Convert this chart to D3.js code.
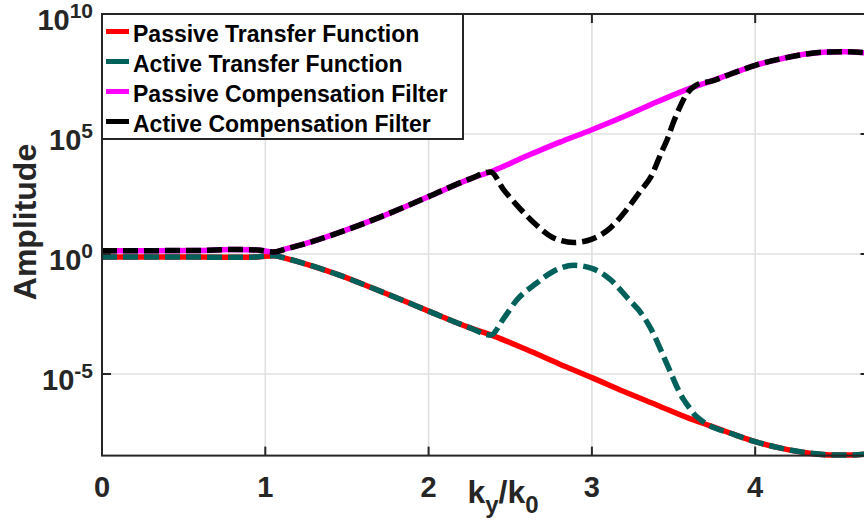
<!DOCTYPE html>
<html><head><meta charset="utf-8">
<script src="https://cdn.jsdelivr.net/npm/d3@7"></script>
<style>
html,body{margin:0;padding:0;background:#fff;}
svg{display:block;font-family:"Liberation Sans",Arial,Helvetica,sans-serif;font-weight:bold;}
</style></head>
<body><svg id="c" width="864" height="529"></svg>
<script>
// ---- data (x = ky/k0, value = log10 amplitude) ----
const xTicks = [0, 1, 2, 3, 4];
const yTickExps = [-5, 0, 5, 10];

const passiveTF_x = [0, 0.3, 0.6, 0.8, 0.95, 1.05, 1.12, 1.25, 1.45, 1.66, 1.87, 2.0, 2.25, 2.4, 2.6, 2.8, 3.0, 3.2, 3.4, 3.6, 3.72, 3.85, 4.0, 4.15, 4.3, 4.45, 4.55, 4.7];
const passiveTF_log = [-0.13, -0.13, -0.13, -0.14, -0.12, -0.07, -0.17, -0.42, -0.87, -1.43, -2.01, -2.38, -3.07, -3.42, -3.98, -4.58, -5.15, -5.74, -6.30, -6.86, -7.15, -7.47, -7.82, -8.08, -8.27, -8.37, -8.38, -8.32];

const activeTF_x = [0, 0.3, 0.6, 0.8, 0.95, 1.05, 1.12, 1.25, 1.45, 1.66, 1.87, 2.0, 2.25, 2.38, 2.46, 2.54, 2.66, 2.76, 2.89, 3.0, 3.11, 3.23, 3.30, 3.36, 3.44, 3.48, 3.52, 3.56, 3.60, 3.63, 3.66, 3.72, 3.85, 4.0, 4.15, 4.3, 4.45, 4.55, 4.7];
const activeTF_log = [-0.13, -0.13, -0.13, -0.14, -0.12, -0.07, -0.17, -0.42, -0.87, -1.43, -2.01, -2.38, -3.07, -3.38, -2.68, -1.92, -1.22, -0.74, -0.47, -0.60, -1.05, -1.92, -2.45, -3.10, -4.28, -4.90, -5.53, -6.05, -6.43, -6.70, -6.88, -7.15, -7.47, -7.82, -8.08, -8.27, -8.37, -8.38, -8.32];

const passiveCF_x = [0, 0.3, 0.6, 0.8, 0.95, 1.05, 1.12, 1.25, 1.45, 1.66, 1.87, 2.0, 2.25, 2.4, 2.6, 2.8, 3.0, 3.2, 3.4, 3.6, 3.72, 3.85, 4.0, 4.15, 4.3, 4.45, 4.55, 4.7];
const passiveCF_log = [0.14, 0.14, 0.15, 0.19, 0.17, 0.08, 0.20, 0.44, 0.89, 1.42, 2.01, 2.39, 3.12, 3.48, 4.08, 4.65, 5.18, 5.74, 6.34, 6.90, 7.18, 7.50, 7.86, 8.12, 8.32, 8.42, 8.43, 8.37];

const activeCF_x = [0, 0.3, 0.6, 0.8, 0.95, 1.05, 1.12, 1.25, 1.45, 1.66, 1.87, 2.0, 2.25, 2.38, 2.46, 2.54, 2.66, 2.76, 2.89, 3.0, 3.11, 3.23, 3.30, 3.36, 3.43, 3.46, 3.50, 3.54, 3.57, 3.60, 3.63, 3.66, 3.72, 3.85, 4.0, 4.15, 4.3, 4.45, 4.55, 4.7];
const activeCF_log = [0.14, 0.14, 0.15, 0.19, 0.17, 0.08, 0.20, 0.44, 0.89, 1.42, 2.01, 2.39, 3.12, 3.42, 2.67, 2.04, 1.21, 0.69, 0.48, 0.62, 1.07, 2.0, 2.65, 3.2, 4.3, 4.75, 5.5, 6.14, 6.55, 6.83, 7.0, 7.11, 7.18, 7.50, 7.86, 8.12, 8.32, 8.42, 8.43, 8.37];

const seriesNames = ["Passive Transfer Function", "Active Transfer Function", "Passive Compensation Filter", "Active Compensation Filter"];
const seriesColors = ["#ff0000", "#00615a", "#ff00ff", "#000000"];

// ---- layout ----
const L = 102, T = 14, B = 455.6, R = 869.5;
const svg = d3.select("#c");
const x = d3.scaleLinear().domain([0, 4.7]).range([L, R]);
const y = d3.scaleLog().domain([Math.pow(10, -8.4), 1e10]).range([B, T]);

// grid
const grid = svg.append("g").attr("stroke", "#e0e0e0").attr("stroke-width", 1.6);
xTicks.filter(d => d > 0).forEach(d => grid.append("line").attr("x1", x(d)).attr("x2", x(d)).attr("y1", T).attr("y2", B));
yTickExps.filter(e => e < 10).forEach(e => grid.append("line").attr("x1", L).attr("x2", R).attr("y1", y(Math.pow(10, e))).attr("y2", y(Math.pow(10, e))));

// lines
const mk = (xs, ls) => xs.map((v, i) => [v, Math.pow(10, ls[i])]);
const line = d3.line().x(d => x(d[0])).y(d => y(d[1])).curve(d3.curveMonotoneX);
const series = [
  {d: mk(passiveTF_x, passiveTF_log), c: seriesColors[0], dash: null},
  {d: mk(activeTF_x, activeTF_log), c: seriesColors[1], dash: "15,6"},
  {d: mk(passiveCF_x, passiveCF_log), c: seriesColors[2], dash: null},
  {d: mk(activeCF_x, activeCF_log), c: seriesColors[3], dash: "15,6"}
];
series.forEach(s => {
  svg.append("path").attr("d", line(s.d)).attr("fill", "none").attr("stroke", s.c)
    .attr("stroke-width", 5.5).attr("stroke-dasharray", s.dash).attr("stroke-linejoin", "round");
});

// axes box
const axCol = "#262626";
svg.append("rect").attr("x", L).attr("y", T).attr("width", R - L).attr("height", B - T)
  .attr("fill", "none").attr("stroke", axCol).attr("stroke-width", 2);
const tk = svg.append("g").attr("stroke", axCol).attr("stroke-width", 2);
xTicks.forEach(d => {
  tk.append("line").attr("x1", x(d)).attr("x2", x(d)).attr("y1", B).attr("y2", B - 9);
  tk.append("line").attr("x1", x(d)).attr("x2", x(d)).attr("y1", T).attr("y2", T + 9);
});
yTickExps.forEach(e => {
  const yy = y(Math.pow(10, e));
  tk.append("line").attr("x1", L).attr("x2", L + 9).attr("y1", yy).attr("y2", yy);
  tk.append("line").attr("x1", R).attr("x2", R - 9).attr("y1", yy).attr("y2", yy);
});

// tick labels
xTicks.forEach(d => {
  svg.append("text").attr("x", x(d)).attr("y", 497).attr("text-anchor", "middle")
    .attr("font-size", 29).attr("fill", axCol).text(d);
});
yTickExps.forEach(e => {
  const yy = y(Math.pow(10, e));
  const t = svg.append("text").attr("x", 93).attr("y", yy + 16).attr("text-anchor", "end")
    .attr("font-size", 29).attr("fill", axCol);
  t.append("tspan").text("10");
  t.append("tspan").attr("font-size", 21).attr("dy", -12).text(e);
});

// axis labels
const xl = svg.append("text").attr("x", 503).attr("y", 503).attr("text-anchor", "middle")
  .attr("font-size", 32).attr("fill", axCol);
xl.append("tspan").text("k");
xl.append("tspan").attr("font-size", 24).attr("dy", 10).text("y");
xl.append("tspan").attr("dy", -10).text("/k");
xl.append("tspan").attr("font-size", 24).attr("dy", 10).text("0");

svg.append("text").attr("transform", "translate(36,222) rotate(-90)").attr("text-anchor", "middle")
  .attr("font-size", 32).attr("fill", axCol).text("Amplitude");

// legend
const lg = svg.append("g");
lg.append("rect").attr("x", L).attr("y", T).attr("width", 361).attr("height", 125)
  .attr("fill", "#fff").attr("stroke", axCol).attr("stroke-width", 2);
seriesNames.forEach((n, i) => {
  const by = 41.5 + i * 30;
  lg.append("line").attr("x1", 106).attr("x2", 129).attr("y1", by - 10).attr("y2", by - 10)
    .attr("stroke", seriesColors[i]).attr("stroke-width", 5);
  lg.append("text").attr("x", 133).attr("y", by).attr("font-size", 23).attr("fill", "#000").text(n);
});
</script></body></html>
